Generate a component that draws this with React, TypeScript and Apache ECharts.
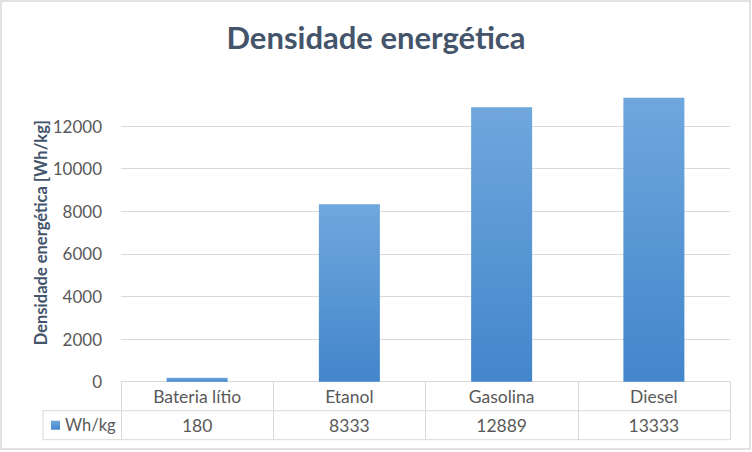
import React, { useEffect, useRef } from "react";
import * as echarts from "echarts";

const categories = ["Bateria lítio", "Etanol", "Gasolina", "Diesel"];
const values = [180, 8333, 12889, 13333];
const seriesName = "Wh/kg";
const titleText = "Densidade energética";
const yAxisName = "Densidade energética [Wh/kg]";

const FONT = "Lato, 'Open Sans', sans-serif";
const GRID_LEFT = 121;
const GRID_RIGHT = 22;
const GRID_TOP = 83.5;
const GRID_BOTTOM = 70.3;
const W = 752;
const H = 452;

export default function App() {
  const ref = useRef<HTMLDivElement>(null);
  useEffect(() => {
    if (!ref.current) return;
    const chart = echarts.init(ref.current, undefined, { renderer: "svg" });
    const barGrad = new echarts.graphic.LinearGradient(0, 0, 0, 1, [
      { offset: 0, color: "#6fa7dd" },
      { offset: 1, color: "#4386cb" },
    ]);
    const axisY = H - GRID_BOTTOM;
    const rightX = W - GRID_RIGHT;
    const tableLeft = 43;
    const row1 = axisY + 29;
    const row2 = axisY + 58;
    const lineStyle = { stroke: "#d9d9d9", lineWidth: 1 };
    chart.setOption({
      animation: false,
      backgroundColor: "#ffffff",
      title: {
        text: titleText,
        left: "center",
        top: 16,
        textStyle: { fontFamily: FONT, fontSize: 31, fontWeight: "bold", color: "#44546a" },
      },
      grid: { left: GRID_LEFT, right: GRID_RIGHT, top: GRID_TOP, bottom: GRID_BOTTOM, containLabel: false },
      xAxis: [
        {
          type: "category",
          data: categories,
          position: "bottom",
          axisLine: { show: true, lineStyle: { color: "#d9d9d9", width: 1 } },
          axisTick: { show: true, length: 58, lineStyle: { color: "#d9d9d9", width: 1 } },
          axisLabel: { margin: 6, fontFamily: FONT, fontSize: 17.5, color: "#595959" },
        },
        {
          type: "category",
          data: values.map((v) => String(v)),
          position: "bottom",
          offset: 29,
          axisLine: { show: false },
          axisTick: { show: false },
          axisLabel: { margin: 6, fontFamily: FONT, fontSize: 17.5, color: "#595959" },
        },
      ],
      yAxis: {
        type: "value",
        min: 0,
        max: 14000,
        interval: 2000,
        name: yAxisName,
        nameLocation: "middle",
        nameGap: 72,
        nameMoveOverlap: false,
        nameTextStyle: { fontFamily: FONT, fontSize: 16.5, fontWeight: "bold", color: "#44546a" },
        axisLine: { show: false },
        axisTick: { show: false },
        axisLabel: {
          margin: 19,
          fontFamily: FONT,
          fontSize: 17,
          color: "#595959",
          showMaxLabel: false,
          formatter: (v: number) => String(v),
        },
        splitLine: { show: true, showMaxLine: false, lineStyle: { color: "#d9d9d9", width: 1 } },
      },
      series: [
        {
          name: seriesName,
          type: "bar",
          data: values,
          barWidth: 61,
          itemStyle: { color: barGrad },
        },
      ],
      graphic: [
        {
          type: "rect",
          shape: { x: 1, y: 1, width: W - 3, height: H - 4 },
          style: { fill: "none", stroke: "#d9d9d9", lineWidth: 1.5 },
          silent: true,
        },
        { type: "line", shape: { x1: tableLeft, y1: row1, x2: rightX, y2: row1 }, style: lineStyle, silent: true },
        { type: "line", shape: { x1: tableLeft, y1: row2, x2: rightX, y2: row2 }, style: lineStyle, silent: true },
        { type: "line", shape: { x1: tableLeft, y1: row1, x2: tableLeft, y2: row2 }, style: lineStyle, silent: true },
        {
          type: "rect",
          shape: { x: 51, y: row1 + 10, width: 9, height: 9 },
          style: { fill: barGrad },
          silent: true,
        },
        {
          type: "text",
          x: 65,
          y: row1 + 14.5,
          style: {
            text: seriesName,
            fontFamily: FONT,
            fontSize: 16.5,
            fill: "#595959",
            verticalAlign: "middle",
            align: "left",
          },
          silent: true,
        },
      ],
    });
    return () => chart.dispose();
  }, []);
  return <div ref={ref} style={{ position: "absolute", left: 0, top: 0, width: W, height: H }} />;
}
